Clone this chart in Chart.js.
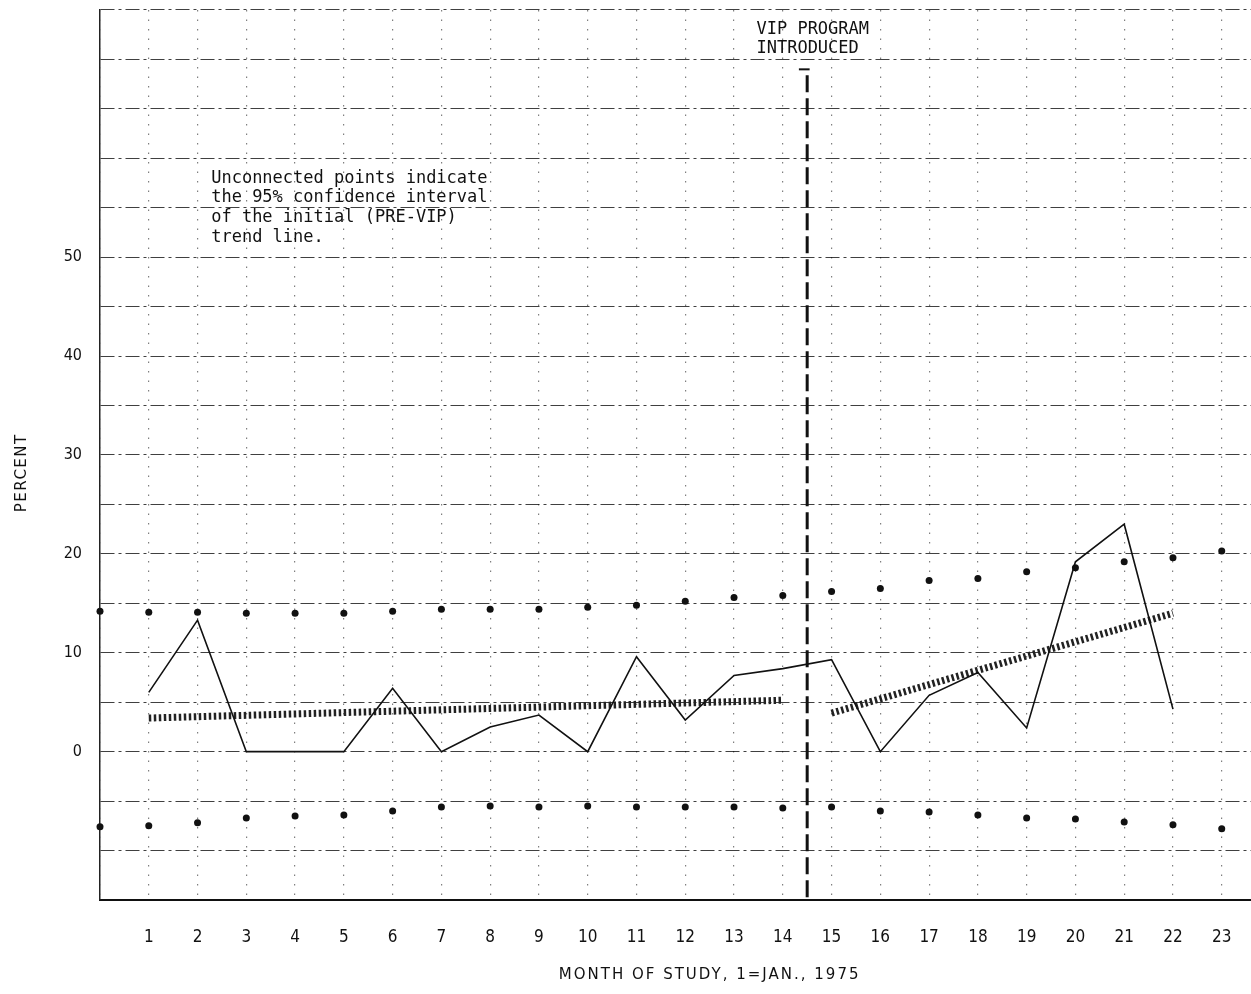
<!DOCTYPE html>
<html>
<head>
<meta charset="utf-8">
<script src="https://cdn.jsdelivr.net/npm/chart.js@4.4.1/dist/chart.umd.min.js"></script>
<style>
  html, body { margin: 0; padding: 0; background: #fff; }
  #wrap { width: 1251px; height: 994px; }
</style>
</head>
<body>
<div id="wrap"><canvas id="vipChart" width="1251" height="994"></canvas></div>
<script>
// monthly percent, 1 = Jan 1975
var months = [1,2,3,4,5,6,7,8,9,10,11,12,13,14,15,16,17,18,19,20,21,22];
var percent = [6.0,13.3,0,0,0,6.4,0,2.5,3.7,0,9.6,3.2,7.7,8.4,9.3,0,5.7,8.0,2.4,19.2,23.0,4.3];

// 95% confidence interval of the pre-VIP trend line
var ciMonths = [0,1,2,3,4,5,6,7,8,9,10,11,12,13,14,15,16,17,18,19,20,21,22,23];
var ciUpper = [14.2,14.1,14.1,14.0,14.0,14.0,14.2,14.4,14.4,14.4,14.6,14.8,15.2,15.6,15.8,16.2,16.5,17.3,17.5,18.2,18.6,19.2,19.6,20.3];
var ciLower = [-7.6,-7.5,-7.2,-6.7,-6.5,-6.4,-6.0,-5.6,-5.5,-5.6,-5.5,-5.6,-5.6,-5.6,-5.7,-5.6,-6.0,-6.1,-6.4,-6.7,-6.8,-7.1,-7.4,-7.8];

// trend lines (end points)
var preTrendX = [1, 14];
var preTrendY = [3.4, 5.2];
var postTrendX = [15, 22];
var postTrendY = [3.9, 14.0];

// VIP program start
var vipX = [14.5, 14.5];
var vipY = [68.4, -15];
var yLabels = [0, 10, 20, 30, 40, 50];

function pts(xs, ys) {
  return xs.map(function(x, i) { return {x: x, y: ys[i]}; });
}

var tickFont = '"DejaVu Sans Condensed", "DejaVu Sans", sans-serif';
var monoFont = '"DejaVu Sans Mono", "Liberation Mono", monospace';

// texts: note box, VIP label, axis titles
var textPlugin = {
  id: 'texts',
  afterDraw: function(chart) {
    var ctx = chart.ctx;
    var xs = chart.scales.x, ys = chart.scales.y;
    ctx.save();
    ctx.fillStyle = '#111';
    ctx.textBaseline = 'middle';
    ctx.textAlign = 'left';
    ctx.font = '17px ' + monoFont;
    var note = ['Unconnected points indicate', 'the 95% confidence interval', 'of the initial (PRE-VIP)', 'trend line.'];
    var nx = xs.getPixelForValue(2.28), ny = ys.getPixelForValue(58.0);
    note.forEach(function(t, i) { ctx.fillText(t, nx, ny + i * 19.7); });
    var vx = xs.getPixelForValue(13.46), vy = ys.getPixelForValue(73.0);
    ctx.fillText('VIP PROGRAM', vx, vy);
    ctx.fillText('INTRODUCED', vx, vy + 19);

    ctx.font = '15px "DejaVu Sans", sans-serif';
    ctx.letterSpacing = '2px';
    ctx.textAlign = 'center';
    ctx.fillText('MONTH OF STUDY, 1=JAN., 1975', xs.getPixelForValue(12.5), 975);
    ctx.letterSpacing = '1.5px';
    ctx.translate(22, ys.getPixelForValue(28.2));
    ctx.rotate(-Math.PI / 2);
    ctx.fillText('PERCENT', 0, 0);
    ctx.restore();
  }
};

var ctx = document.getElementById('vipChart').getContext('2d');
var vipChart = new Chart(ctx, {
  type: 'scatter',
  data: {
    datasets: [
      {
        data: pts(months, percent),
        showLine: true,
        borderColor: '#111',
        borderWidth: 1.6,
        pointRadius: 0,
        tension: 0
      },
      {
        data: pts(preTrendX, preTrendY),
        showLine: true,
        borderColor: '#222',
        borderWidth: 7,
        borderDash: [2.5, 2.5],
        pointRadius: 0
      },
      {
        data: pts(postTrendX, postTrendY),
        showLine: true,
        borderColor: '#222',
        borderWidth: 7,
        borderDash: [2.5, 2.5],
        pointRadius: 0
      },
      {
        data: pts(ciMonths, ciUpper),
        pointRadius: 3.5,
        pointBackgroundColor: '#111',
        pointBorderWidth: 0,
        clip: false
      },
      {
        data: pts(ciMonths, ciLower),
        pointRadius: 3.5,
        pointBackgroundColor: '#111',
        pointBorderWidth: 0,
        clip: false
      },
      {
        data: pts(vipX, vipY),
        showLine: true,
        borderColor: '#111',
        borderWidth: 3,
        borderDash: [17, 6],
        pointRadius: 0
      },
      {
        data: pts([14.33, 14.55], [69.0, 69.0]),
        showLine: true,
        borderColor: '#111',
        borderWidth: 2,
        pointRadius: 0
      }
    ]
  },
  options: {
    responsive: false,
    animation: false,
    events: [],
    layout: { autoPadding: false, padding: { top: 10, right: 0, bottom: 0, left: 0 } },
    plugins: {
      legend: { display: false },
      tooltip: { enabled: false }
    },
    scales: {
      x: {
        type: 'linear',
        min: 0,
        max: 23.6,
        afterFit: function(scale) {
          scale.height = 94;
          scale.paddingLeft = 0;
          scale.paddingRight = 0;
        },
        border: { display: true, color: '#111', width: 2, dash: [1.5, 8] },
        grid: {
          color: 'rgba(0,0,0,0.5)',
          lineWidth: 1.2,
          drawTicks: false
        },
        ticks: {
          stepSize: 1,
          includeBounds: false,
          autoSkip: false,
          maxRotation: 0,
          padding: 27,
          color: '#111',
          font: { family: tickFont, size: 17 },
          callback: function(v) { return v === 0 ? '' : String(v); }
        }
      },
      y: {
        min: -15,
        max: 75,
        afterFit: function(scale) {
          scale.width = 100;
          scale.paddingTop = 0;
          scale.paddingBottom = 0;
        },
        border: { display: true, color: '#222', width: 1.5, dash: [14, 4, 3, 4] },
        grid: {
          color: 'rgba(0,0,0,0.75)',
          lineWidth: 1.1,
          drawTicks: false
        },
        ticks: {
          stepSize: 5,
          padding: 18,
          color: '#111',
          font: { family: tickFont, size: 16 },
          callback: function(v) { return yLabels.indexOf(v) >= 0 ? String(v) : ''; }
        }
      }
    }
  },
  plugins: [textPlugin]
});
</script>
</body>
</html>
